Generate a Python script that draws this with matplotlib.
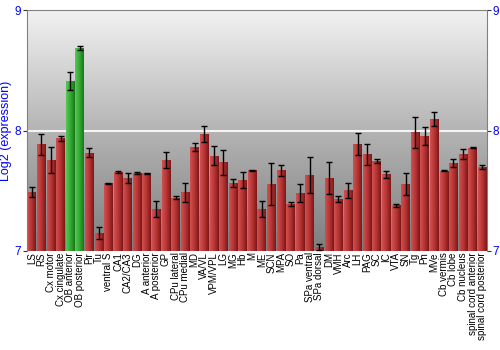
import matplotlib
matplotlib.use("Agg")
import matplotlib.pyplot as plt
from matplotlib.colors import LinearSegmentedColormap
import numpy as np

plt.rcParams['font.family'] = ['Liberation Sans', 'DejaVu Sans']

regions = ["LS", "RS", "Cx motor", "Cx cingulate", "OB anterior", "OB posterior",
           "Pir", "Tu", "ventral S", "CA1", "CA2/CA3", "DG", "A anterior",
           "A posterior", "GP", "CPu lateral", "CPu medial", "MD", "VA/VL",
           "VPM/VPL", "LG", "MG", "Hb", "M", "ME", "SCN", "MPA", "SO", "Pa",
           "SPa ventral", "SPa dorsal", "DM", "VMH", "Arc", "LH", "PAG", "SC",
           "IC", "VTA", "SN", "Tg", "Pn", "MVe", "Cb vermis", "Cb lobe",
           "Cb nucleus", "spinal cord anterior", "spinal cord posterior"]
expression = [7.487, 7.885, 7.755, 7.935, 8.413, 8.687, 7.816, 7.149, 7.562,
              7.656, 7.606, 7.647, 7.645, 7.351, 7.755, 7.443, 7.487, 7.860,
              7.974, 7.791, 7.736, 7.564, 7.589, 7.669, 7.346, 7.556, 7.672,
              7.390, 7.484, 7.631, 7.031, 7.606, 7.432, 7.504, 7.885, 7.802,
              7.747, 7.636, 7.379, 7.556, 7.985, 7.957, 8.093, 7.666, 7.733,
              7.805, 7.857, 7.697]
error = [0.040, 0.085, 0.106, 0.020, 0.073, 0.015, 0.037, 0.050, 0.006,
         0.010, 0.045, 0.005, 0.006, 0.066, 0.070, 0.013, 0.080, 0.033,
         0.065, 0.080, 0.104, 0.036, 0.069, 0.003, 0.065, 0.177, 0.046,
         0.015, 0.076, 0.153, 0.024, 0.131, 0.026, 0.064, 0.091, 0.086,
         0.017, 0.032, 0.014, 0.094, 0.129, 0.075, 0.057, 0.003, 0.032,
         0.040, 0.005, 0.014]
highlight = ["OB anterior", "OB posterior"]

red_cmap = LinearSegmentedColormap.from_list("red", ["#d05050", "#b83434", "#7a1818"])
green_cmap = LinearSegmentedColormap.from_list("green", ["#58c858", "#34a834", "#187818"])
bg_cmap = LinearSegmentedColormap.from_list("bg", ["#7e7e7e", "#b4b4b4", "#f2f2f2"])

fig = plt.figure(figsize=(5, 3.5), dpi=100)
ax = fig.add_axes([0.054, 0.283, 0.92, 0.688])

x = np.arange(len(regions))
ax.set_xlim(-0.5, len(regions) - 0.5)
ax.set_ylim(7, 9)

# background gradient
ax.imshow(np.linspace(0, 1, 256).reshape(-1, 1), cmap=bg_cmap, origin="lower",
          extent=[0, 1, 0, 1], transform=ax.transAxes, aspect="auto", zorder=0)
ax.axhline(8, color="#f4f4f4", lw=1.5, zorder=1)

bars = ax.bar(x, np.array(expression) - 7, bottom=7, width=0.9, color="none",
              edgecolor="none", zorder=2)
grad = np.linspace(0, 1, 64).reshape(1, -1)
for name, b in zip(regions, bars):
    cmap = green_cmap if name in highlight else red_cmap
    x0, y0 = b.get_x(), b.get_y()
    im = ax.imshow(grad, cmap=cmap, extent=[x0, x0 + b.get_width(), y0, y0 + b.get_height()],
                   aspect="auto", zorder=2, interpolation="bilinear")
    im.set_clip_path(b)

ax.errorbar(x, expression, yerr=error, fmt="none", ecolor="black", elinewidth=1,
            capsize=2, capthick=1, zorder=3)

ax.set_xlim(-0.5, len(regions) - 0.5)
ax.set_ylim(7, 9)
ax.set_xticks(x)
ax.set_xticklabels(regions, rotation=90, fontsize=7)
ax.tick_params(axis="x", length=0, pad=1)
ax.set_yticks([7, 8, 9])
ax.tick_params(axis="y", labelcolor="blue", labelsize=8.5, length=3, color="#333333",
               right=True, labelright=True, pad=1)
ax.set_ylabel("Log2 (expression)", color="blue", fontsize=9, labelpad=2)

for side in ["left", "right", "top"]:
    ax.spines[side].set_color("#808080")
ax.spines["bottom"].set_visible(False)

fig.savefig("out.png", dpi=100)
